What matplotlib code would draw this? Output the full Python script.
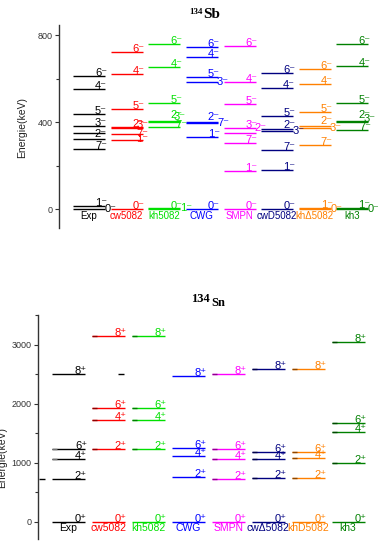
import matplotlib
matplotlib.use('Agg')
import matplotlib.pyplot as plt
from matplotlib.colors import to_rgb

plt.rcParams.update({
    'font.family': ['Liberation Sans', 'DejaVu Sans'],
})

# ---------------- data: 134Sb (negative parity) ----------------
sb_models = ['Exp', 'cw5082', 'kh5082', 'CWG', 'SMPN', 'cwD5082', 'khΔ5082', 'kh3']
sb_exp_E  = [0, 13, 274, 322, 351, 380, 437, 550, 613]
sb_exp_J  = [0, 1, 7, 2, None, 3, 5, 4, 6]
sb_cw_E   = [0, 316, 345, 372, 378, 458, 621, 723]
sb_cw_J   = [0, 1, 7, 3, 2, 5, 4, 6]
sb_kh_E   = [0, 3, 376, 398, 405, 489, 654, 757]
sb_kh_J   = [0, 1, 7, 3, 2, 5, 4, 6]
sb_cwg_E  = [0, 330, 396, 400, 585, 608, 700, 746]
sb_cwg_J  = [0, 1, 7, 2, 3, 5, 4, 6]
sb_smpn_E = [0, 175, 302, 348, 371, 481, 585, 749]
sb_smpn_J = [0, 1, 7, 2, 3, 5, 4, 6]
sb_cwd_E  = [1, 179, 271, 360, 368, 428, 558, 624]
sb_cwd_J  = [0, 1, 7, 3, 2, 5, 4, 6]
sb_khd_E  = [0, 6, 294, 371, 383, 447, 573, 642]
sb_khd_J  = [0, 1, 7, 3, 2, 5, 4, 6]
sb_kh3_E  = [0, 6, 363, 402, 406, 489, 657, 757]
sb_kh3_J  = [0, 1, 7, 3, 2, 5, 4, 6]

# ---------------- data: 134Sn (positive parity) ----------------
sn_models = ['Exp', 'cw5082', 'kh5082', 'CWG', 'SMPN', 'cwΔ5082', 'khD5082', 'kh3']
sn_J      = [0, 2, 4, 6, 8]
sn_exp_E  = [0, 720, 1060, 1234, 2503]
sn_cw_E   = [0, 1229, 1727, 1925, 3153]
sn_kh_E   = [0, 1239, 1727, 1925, 3153]
sn_cwg_E  = [0, 764, 1115, 1257, 2462]
sn_smpn_E = [0, 725, 1064, 1234, 2508]
sn_cwd_E  = [0, 747, 1064, 1189, 2593]
sn_khd_E  = [0, 747, 1076, 1189, 2593]
sn_kh3_E  = [0, 1002, 1517, 1681, 3040]

sb_yticks = [0, 400, 800]
sb_yminor = [200, 600]
sn_yticks = [0, 1000, 2000, 3000]
sn_yminor = [500, 1500, 2500, 3500]

colors = ['black', '#ff0000', '#00e000', '#0000ff', '#ff00ff', '#000080', '#ff8000', '#008000']

# ---------------- layout helpers ----------------
W, H = 378, 541
fig = plt.figure(figsize=(W / 100, H / 100), dpi=100)
PT = 0.72  # points per pixel at 100 dpi


def axes_px(left, top, right, bottom):
    return fig.add_axes([left / W, 1 - bottom / H, (right - left) / W, (bottom - top) / H])


def style_axis(ax, ticks, minor, ylim):
    for s in ['top', 'right', 'bottom']:
        ax.spines[s].set_visible(False)
    ax.spines['left'].set_linewidth(1.0)
    ax.spines['left'].set_color('#333333')
    ax.set_ylim(*ylim)
    ax.set_xticks([])
    ax.set_yticks(ticks)
    ax.set_yticks(minor, minor=True)
    ax.tick_params(axis='y', which='major', direction='out', length=3, width=0.8,
                   labelsize=6.5, pad=1.5, colors='#333333')
    ax.tick_params(axis='y', which='minor', direction='out', length=2, width=0.8,
                   colors='#333333')
    ax.patch.set_visible(False)


SUP = {'-': '\u207b', '+': '\u207a'}


def lab(J, sign):
    return f'{J}{SUP[sign]}'


def draw(ax, models, Elists, Jlists, sign, half, overrides, name_fs, lab_fs=8):
    for i, (m, Es, Js) in enumerate(zip(models, Elists, Jlists)):
        c = colors[i]
        for E, J in zip(Es, Js):
            ax.hlines(E, i - half, i + half, color=c, lw=1.0)
            if J is None:
                continue
            mode, dx, dy = overrides.get((m, J), ('a', 2, 0))
            if mode == 'a':
                ax.annotate(lab(J, sign), xy=(i + half, E), xytext=(dx * PT, dy * PT),
                            textcoords='offset points', ha='right', va='baseline',
                            color=c, fontsize=lab_fs)
            else:
                ax.annotate(lab(J, sign), xy=(i + half, E), xytext=(dx * PT, dy * PT),
                            textcoords='offset points', ha='left', va='center',
                            color=c, fontsize=lab_fs)
        ax.annotate(m, xy=(i, 0), xytext=(0, -1.5 * PT), textcoords='offset points',
                    ha='center', va='top', color=c, fontsize=name_fs)


# ---------------- top panel: 134Sb ----------------
ax1 = axes_px(59, 25, 376, 228)
sb_step, sb_c0 = 37.64, 89
ax1.set_xlim((59 - sb_c0) / sb_step, (376 - sb_c0) / sb_step)
style_axis(ax1, sb_yticks, sb_yminor, (-87, 846))

sb_over = {
    ('Exp', 0): ('r', 0, 0), ('Exp', 2): ('a', 2, 2),
    ('cw5082', 3): ('a', 6, 0), ('cw5082', 7): ('a', 6, -3), ('cw5082', 1): ('a', 6, -2),
    ('kh5082', 2): ('a', 2, 2.5), ('kh5082', 3): ('a', 5, 2), ('kh5082', 7): ('a', 7, -1),
    ('kh5082', 1): ('r', 0, 0),
    ('CWG', 3): ('r', -1, 0), ('CWG', 2): ('a', 2, 2.5), ('CWG', 7): ('r', -1, 0),
    ('SMPN', 2): ('r', -1, 5),
    ('cwD5082', 2): ('a', 2, 1.5), ('cwD5082', 3): ('r', -1, 0),
    ('khΔ5082', 2): ('a', 2, 1.5), ('khΔ5082', 3): ('r', -1, 0), ('khΔ5082', 0): ('r', 0, 0),
    ('kh3', 2): ('a', 2, 2.5), ('kh3', 3): ('a', 7, 0), ('kh3', 7): ('a', 3, 0),
    ('kh3', 0): ('r', -1, 0),
}
draw(ax1, sb_models,
     [sb_exp_E, sb_cw_E, sb_kh_E, sb_cwg_E, sb_smpn_E, sb_cwd_E, sb_khd_E, sb_kh3_E],
     [sb_exp_J, sb_cw_J, sb_kh_J, sb_cwg_J, sb_smpn_J, sb_cwd_J, sb_khd_J, sb_kh3_J],
     '-', 16 / sb_step, sb_over, 7)

# ---------------- bottom panel: 134Sn ----------------
ax2 = axes_px(38, 315, 376, 539)
sn_step, sn_c0 = 39.93, 68.5
ax2.set_xlim((38 - sn_c0) / sn_step, (376 - sn_c0) / sn_step)
style_axis(ax2, sn_yticks, sn_yminor, (-293, 3504))
sn_half = 16.5 / sn_step
sn_E = [sn_exp_E, sn_cw_E, sn_kh_E, sn_cwg_E, sn_smpn_E, sn_cwd_E, sn_khd_E, sn_kh3_E]
draw(ax2, sn_models, sn_E, [sn_J] * 8, '+', sn_half, {}, 7.5)

# darker start segments of the level lines (as in the original)
seg = 5 / sn_step
for i, Es in enumerate(sn_E):
    if sn_models[i] == 'CWG':
        continue
    base = to_rgb(colors[i])
    dark = tuple(0.55 * v for v in base) if i else (0.45, 0.45, 0.45)
    for E, J in zip(Es, sn_J):
        if J == 0 or (i == 0 and J not in (4, 6)):
            continue
        ax2.hlines(E, i - sn_half, i - sn_half + seg, color=dark, lw=1.0, zorder=3)
# stray short dashes in the original
ax2.hlines(sn_exp_E[1], -0.739, -0.59, color='black', lw=1.0, clip_on=False)
ax2.hlines(sn_exp_E[4], 1.24, 1.39, color='black', lw=1.0)

# ---------------- titles and axis labels ----------------
fig.text(203 / W, 1 - 14.5 / H, '134', fontsize=6.5, fontweight='bold',
         family='Liberation Serif', ha='right', va='baseline')
fig.text(203.5 / W, 1 - 18.5 / H, 'Sb', fontsize=11, fontweight='bold',
         family='Liberation Serif', ha='left', va='baseline')
fig.text(210 / W, 1 - 302 / H, '134', fontsize=9, fontweight='bold',
         family='Liberation Serif', ha='right', va='baseline')
fig.text(211 / W, 1 - 306 / H, 'Sn', fontsize=9, fontweight='bold',
         family='Liberation Serif', ha='left', va='baseline')

fig.text(22 / W, 1 - 127 / H, 'Energie(keV)', rotation=90, fontsize=7.5,
         ha='center', va='center', color='#222222')
fig.text(2 / W, 1 - 457 / H, 'Energie(keV)', rotation=90, fontsize=7.5,
         ha='center', va='center', color='#222222')

fig.savefig('out.png', dpi=100)
